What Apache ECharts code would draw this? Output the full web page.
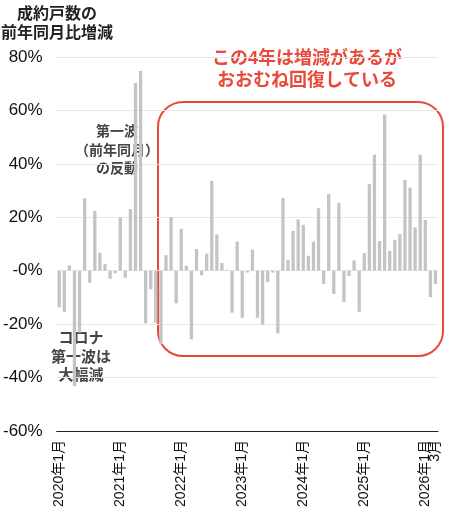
<!DOCTYPE html>
<html>
<head>
<meta charset="utf-8">
<script src="https://cdn.jsdelivr.net/npm/echarts@6/dist/echarts.min.js"></script>
<style>
html, body { margin: 0; padding: 0; background: #fff; }
#container { width: 450px; height: 521px; }
</style>
</head>
<body>
<div id="container"></div>
<script>
// 成約戸数の前年同月比（%）、年ごと
var v2020 = [-13.7, -15.4, 2.0, -43.2, -23.2, 27.1, -4.5, 22.4, 6.7, 2.5, -3.0, -1.0];
var v2021 = [20.0, -2.6, 23.1, 70.3, 74.8, -19.7, -7.0, -19.5, -27.5, 5.8, 20.1, -12.2];
var v2022 = [15.7, 1.9, -25.7, 8.1, -1.7, 6.4, 33.6, 13.6, 2.9, 0.3, -15.7, 10.9];
var v2023 = [-17.6, -0.7, 7.9, -17.6, -20.2, -4.2, -0.7, -23.5, 27.2, 4.0, 14.9, 19.2];
var v2024 = [17.2, 5.6, 10.9, 23.4, -4.9, 28.7, -8.7, 25.4, -11.7, -1.9, 3.9, -15.4];
var v2025 = [6.6, 32.4, 43.5, 11.1, 58.5, 7.4, 11.5, 13.7, 34.0, 31.1, 16.2, 43.4];
var v2026 = [19.0, -9.9, -5.0];

var years = [2020, 2021, 2022, 2023, 2024, 2025, 2026];
var yearValues = [v2020, v2021, v2022, v2023, v2024, v2025, v2026];
var lastLabel = '3月';

var yMin = -60, yMax = 80, yStep = 20;

var categories = [];
var values = [];
for (var i = 0; i < years.length; i++) {
    for (var m = 0; m < yearValues[i].length; m++) {
        categories.push(years[i] + '年' + (m + 1) + '月');
        values.push(yearValues[i][m]);
    }
}
var lastIdx = categories.length - 1;

var FONT = "'Liberation Sans','Noto Sans CJK JP',sans-serif";
var RED = '#e8493b';

var xLabelBase = {
    rotate: 90,
    margin: 9,
    fontSize: 14,
    color: '#111',
    fontFamily: FONT,
    hideOverlap: false
};

var dom = document.getElementById('container');
var myChart = echarts.init(dom);
var option = {
    animation: false,
    grid: { left: 52, right: 12, top: 57, bottom: 90 },
    xAxis: [{
        type: 'category',
        data: categories,
        position: 'bottom',
        axisLine: { onZero: false, lineStyle: { color: '#222', width: 1 } },
        axisTick: { show: false },
        axisLabel: Object.assign({}, xLabelBase, {
            interval: function (idx) { return idx % 12 === 0; }
        })
    }, {
        // 最後の月だけのラベル（1月と重ねて表示）
        type: 'category',
        data: categories,
        position: 'bottom',
        axisLine: { show: false, onZero: false },
        axisTick: { show: false },
        splitLine: { show: false },
        axisLabel: Object.assign({}, xLabelBase, {
            interval: function (idx) { return idx === lastIdx; },
            showMaxLabel: true,
            formatter: function () { return lastLabel; }
        })
    }],
    yAxis: {
        type: 'value',
        min: yMin,
        max: yMax,
        interval: yStep,
        axisLine: { show: false },
        axisTick: { show: false },
        splitLine: { lineStyle: { color: '#e8e8e8', width: 1 } },
        axisLabel: {
            margin: 14,
            fontSize: 17,
            color: '#111',
            fontFamily: FONT,
            formatter: function (v) { return v === 0 ? '-0%' : v + '%'; }
        }
    },
    series: [{
        type: 'bar',
        data: values,
        barWidth: 3.3,
        itemStyle: { color: '#c4c4c4' }
    }],
    graphic: [
        {
            type: 'text',
            style: {
                text: '成約戸数の\n前年同月比増減',
                x: 57, y: 5,
                align: 'center', textAlign: 'center',
                lineHeight: 19,
                fontSize: 16, fontWeight: 'bold', fontFamily: FONT,
                fill: '#222'
            }
        },
        {
            type: 'rect',
            shape: { x: 158, y: 102, width: 285, height: 254, r: 25 },
            style: { fill: 'none', stroke: RED, lineWidth: 2 }
        },
        {
            type: 'text',
            style: {
                text: 'この4年は増減があるが\nおおむね回復している',
                x: 307, y: 48,
                align: 'center', textAlign: 'center',
                lineHeight: 22,
                fontSize: 18, fontWeight: 'bold', fontFamily: FONT,
                fill: RED
            }
        },
        {
            type: 'text',
            style: {
                text: '第一波\n（前年同月）\nの反動',
                x: 117, y: 123,
                align: 'center', textAlign: 'center',
                lineHeight: 18.5,
                fontSize: 14, fontWeight: 'bold', fontFamily: FONT,
                fill: '#444'
            }
        },
        {
            type: 'text',
            style: {
                text: 'コロナ\n第一波は\n大幅減',
                x: 81, y: 330,
                align: 'center', textAlign: 'center',
                lineHeight: 18.5,
                fontSize: 15, fontWeight: 'bold', fontFamily: FONT,
                fill: '#444'
            }
        }
    ]
};
myChart.setOption(option, true);
</script>
</body>
</html>
